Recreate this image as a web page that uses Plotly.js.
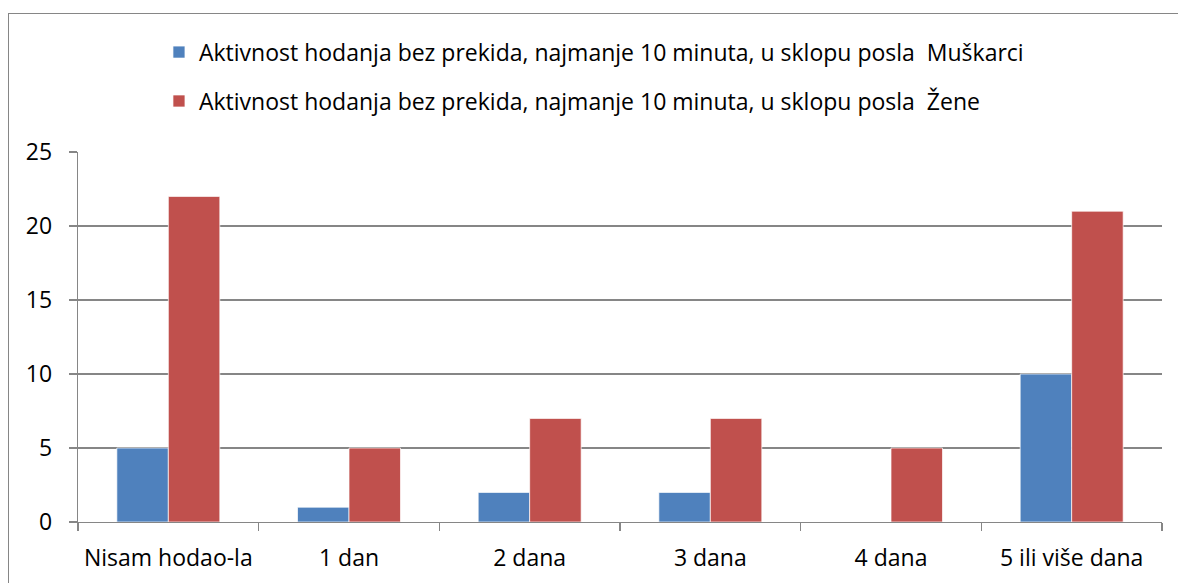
<!DOCTYPE html>
<html>
<head>
<meta charset="utf-8">
<script src="https://cdn.plot.ly/plotly-3.0.1.min.js"></script>
<style>
html,body{margin:0;padding:0;background:#fff;}
#wrap{position:relative;width:1178px;height:583px;overflow:hidden;}
#frame{position:absolute;left:8px;top:13px;width:1200px;height:600px;border:1.5px solid #868686;box-sizing:border-box;pointer-events:none;}
#chart{position:absolute;left:0;top:0;width:1178px;height:583px;}
</style>
</head>
<body>
<div id="wrap"><div id="chart"></div><div id="frame"></div></div>
<script>
const categories = ["Nisam hodao-la", "1 dan", "2 dana", "3 dana", "4 dana", "5 ili više dana"];
const muskarci = [5, 1, 2, 2, 0, 10];
const zene = [22, 5, 7, 7, 5, 21];
const seriesNames = [
  "Aktivnost hodanja bez prekida, najmanje 10 minuta, u sklopu posla  Muškarci",
  "Aktivnost hodanja bez prekida, najmanje 10 minuta, u sklopu posla  Žene"
];
const yTicks = [0, 5, 10, 15, 20, 25];

const FONT = "'Open Sans', sans-serif";
const FS = 23;
const data = [
  {type: "bar", x: categories, y: muskarci, name: seriesNames[0], legendgroup: "a",
   marker: {color: "#4F81BD", line: {color: "rgba(255,255,255,0.7)", width: 1}}},
  {type: "bar", x: categories, y: zene, name: seriesNames[1], legendgroup: "b",
   marker: {color: "#C0504D", line: {color: "rgba(255,255,255,0.7)", width: 1}}}
];
const layout = {
  width: 1178, height: 583,
  margin: {l: 78, r: 16, t: 152, b: 61, pad: 0},
  paper_bgcolor: "rgba(0,0,0,0)", plot_bgcolor: "#fff",
  font: {family: FONT, size: FS, color: "#000"},
  barmode: "group", bargap: 0.43, bargroupgap: 0,
  showlegend: true,
  legend: {x: 0.0747, xanchor: "left", y: 1.328, yanchor: "top", orientation: "v",
           traceorder: "grouped", tracegroupgap: 16, font: {family: FONT, size: FS, color: "#000"},
           bgcolor: "rgba(0,0,0,0)"},
  xaxis: {type: "category", showline: true, linecolor: "#868686", linewidth: 1.3,
          ticks: "outside", tickson: "boundaries", ticklen: 8, tickcolor: "#868686", tickwidth: 1.3,
          showgrid: false, zeroline: false, ticklabelstandoff: 15,
          tickfont: {family: FONT, size: FS, color: "#000"}},
  yaxis: {range: [0, 25], tickvals: yTicks, ticktext: yTicks.map(String),
          showline: true, linecolor: "#868686", linewidth: 1.3,
          ticks: "outside", ticklen: 8, tickcolor: "#868686", tickwidth: 1.3,
          showgrid: true, gridcolor: "#868686", gridwidth: 1.3, zeroline: false,
          ticklabelstandoff: 12, tickfont: {family: FONT, size: FS, color: "#000"}}
};
Plotly.newPlot("chart", data, layout, {displayModeBar: false, staticPlot: true});
</script>
</body>
</html>
